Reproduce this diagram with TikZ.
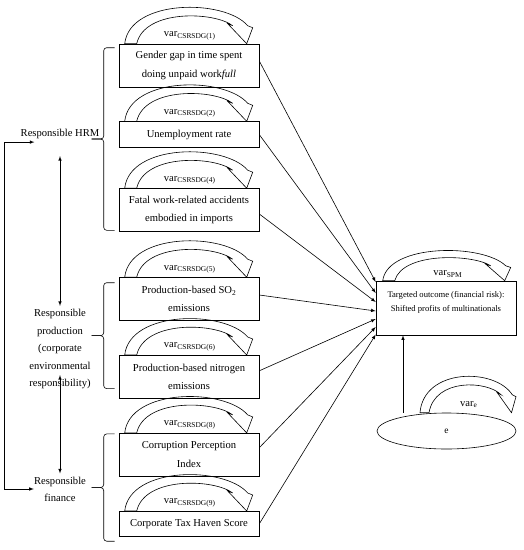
\documentclass[tikz,border=0pt]{standalone}
\usepackage{fontspec}
\setmainfont{Liberation Serif}
\usetikzlibrary{shapes.geometric,calc}

\tikzset{
  ind/.style={draw, minimum width=140pt, minimum height=43pt, inner sep=3pt,
    align=center, font=\fontsize{10.6}{18.5}\selectfont},
  grp/.style={align=center, inner sep=3pt, font=\fontsize{10.6}{17.5}\selectfont},
  varlab/.style={inner sep=1pt, font=\fontsize{10.6}{12}\selectfont},
}

% curved self arrow above a node: start point, scaling, label
\newcommand{\varloop}[3]{%
  \begin{scope}[shift={(#1)}, #2]
    \draw (0,0) .. controls (5,-45) and (100,-45) .. (123,-18) -- (128,-16) -- (122,0)
      -- (103,-20) -- (108,-18) .. controls (90,-32) and (20,-35) .. (12,0) -- cycle;
    \node[varlab] at (65,-8) {#3};
  \end{scope}}
% group brace between two points, tip to the left
\newcommand{\grpbrace}[2]{%
  \draw[rounded corners=3pt] (#1) -- ++(-11,0) |- ($(#1)!.5!(#2)+(-23,0)$);
  \draw[rounded corners=3pt] (#2) -- ++(-11,0) |- ($(#1)!.5!(#2)+(-23,0)$);}

\begin{document}
\begin{tikzpicture}[x=1pt, y=-1pt, line width=0.6pt]
  \useasboundingbox (0,0) rectangle (524,550);
  % indicators
  \node[ind] (b1) at (189,65.5) {Gender gap in time spent\\doing unpaid work\textit{full}};
  \node[ind, minimum height=26pt] (b2) at (189,134.6) {Unemployment rate};
  \node[ind] (b3) at (189,210) {Fatal work-related accidents\\embodied in imports};
  \node[ind] (b4) at (189,299) {Production-based SO\textsubscript{2}\\emissions};
  \node[ind] (b5) at (189,376.8) {Production-based nitrogen\\emissions};
  \node[ind] (b6) at (189,454.7) {Corruption Perception\\Index};
  \node[ind, minimum height=25pt] (b7) at (189,523.8) {Corporate Tax Haven Score};
  % loops on indicators
  \varloop{[xshift=6pt]b1.north west}{}{var\textsubscript{CSRSDG(1)}}
  \varloop{[xshift=6pt]b2.north west}{}{var\textsubscript{CSRSDG(2)}}
  \varloop{[xshift=6pt]b3.north west}{}{var\textsubscript{CSRSDG(4)}}
  \varloop{[xshift=6pt]b4.north west}{}{var\textsubscript{CSRSDG(5)}}
  \varloop{[xshift=6pt]b5.north west}{}{var\textsubscript{CSRSDG(6)}}
  \varloop{[xshift=6pt]b6.north west}{}{var\textsubscript{CSRSDG(8)}}
  \varloop{[xshift=6pt]b7.north west}{}{var\textsubscript{CSRSDG(9)}}
  % outcome
  \node[draw, minimum width=140pt, minimum height=54pt, align=center,
    font=\fontsize{8.6}{14}\selectfont] (tgt) at (446,308)
    {Targeted outcome (financial risk):\\Shifted profits of multinationals\\\mbox{}};
  \varloop{[xshift=7pt]tgt.north west}{yscale=0.83}{var\textsubscript{SPM}}
  % error term
  \node[draw, ellipse, minimum width=139pt, minimum height=36pt, inner sep=0pt,
    font=\fontsize{9.5}{11}\selectfont] (ell) at (446.5,431) {e};
  \varloop{[xshift=-26.5pt]ell.north}{xscale=0.75, yscale=1}{var\textsubscript{e}}
  \draw[-latex] ([xshift=-43.5pt]ell.north) -- ([xshift=-43pt]tgt.south);
  % paths to outcome
  \foreach \b/\s/\t in {b1/4.5/26, b2/0/15, b3/-4/6, b4/4/-3, b5/6/-11, b6/7/-19, b7/0/-26.5}
    \draw[-latex] ([yshift=\s pt]\b.east) -- ([yshift=\t pt]tgt.west);
  % groups
  \node[grp] (hrm) at (60,134) {Responsible HRM};
  \node[grp] (prod) at (60,349) {Responsible\\production\\(corporate\\environmental\\responsibility)};
  \node[grp, font=\fontsize{10.6}{17}\selectfont] (fin) at (60,489) {Responsible\\finance};
  \grpbrace{[xshift=-4pt,yshift=-4pt]b1.north west}{[xshift=-4pt,yshift=1.5pt]b3.south west}
  \grpbrace{[xshift=-4pt,yshift=-5.5pt]b4.north west}{[xshift=-4pt,yshift=10pt]b5.south west}
  \grpbrace{[xshift=-4pt,yshift=-1pt]b6.north west}{[xshift=-4pt,yshift=-4.6pt]b7.south west}
  \draw[latex-latex] ([yshift=-14pt]hrm.south) -- (prod.north);
  \draw[latex-latex] ([yshift=17pt]prod.south) -- (fin.north);
  \draw[latex-latex] ([xshift=17pt]hrm.south west) -- ++(-30,0) |- ([xshift=3pt]fin.west);
\end{tikzpicture}
\end{document}
